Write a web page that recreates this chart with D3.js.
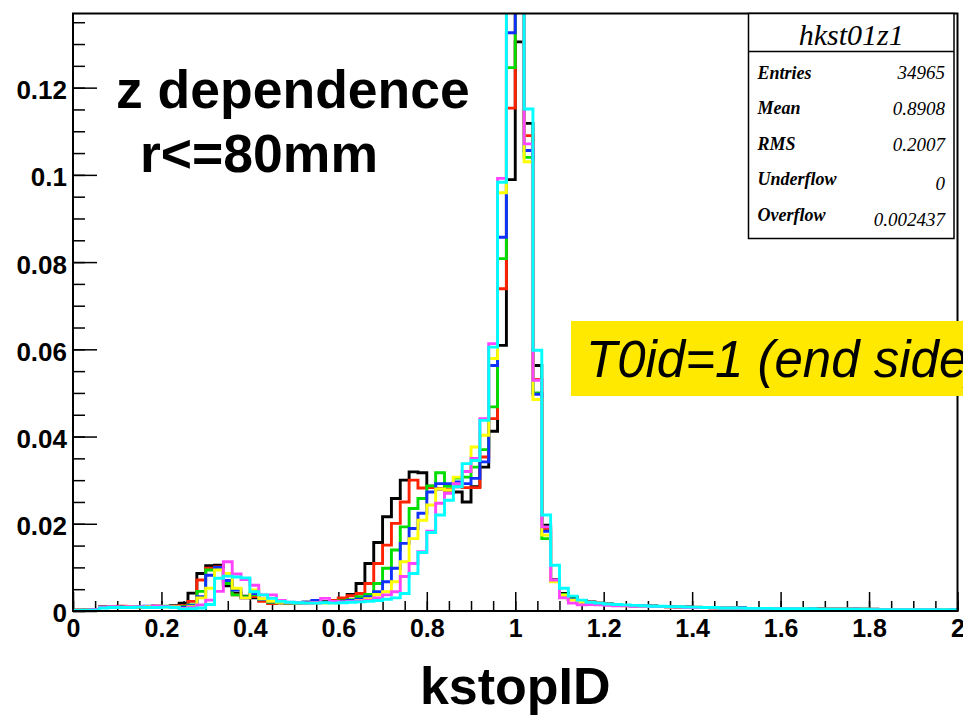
<!DOCTYPE html>
<html>
<head>
<meta charset="utf-8">
<script src="https://cdn.jsdelivr.net/npm/d3@7/dist/d3.min.js"></script>
<style>
  body { margin: 0; background: #fff; }
</style>
</head>
<body>
<div id="canvas"></div>
<script>
// histogram range: 100 bins of 0.02 from 0 to 2
const xMin = 0;
const xMax = 2;

const xTicks = [0, 0.2, 0.4, 0.6, 0.8, 1, 1.2, 1.4, 1.6, 1.8, 2];
const yTicks = [0, 0.02, 0.04, 0.06, 0.08, 0.1, 0.12];

const seriesColors = ["#000000", "#ff2200", "#00dd00", "#1030ff", "#ffff00", "#ff44ff", "#00ffff"];

const hBlack = [
  0.0002,0.0002,0.0003,0.0009,0.0009,0.0010,0.0010,0.0009,0.0010,0.0011,0.0010,0.0012,
  0.0018,0.0041,0.0086,0.0104,0.0105,0.0058,0.0041,0.0034,0.0030,0.0025,0.0022,0.0020,
  0.0017,0.0019,0.0020,0.0021,0.0022,0.0024,0.0029,0.0038,0.0063,0.0109,0.0157,0.0216,
  0.0258,0.0300,0.0319,0.0317,0.0286,0.0280,0.0275,0.0273,0.0250,0.0285,0.0330,0.0412,
  0.0609,0.0989,0.1305,0.1118,0.0563,0.0197,0.0072,0.0040,0.0031,0.0024,0.0021,0.0018,
  0.0016,0.0015,0.0013,0.0012,0.0011,0.0011,0.0010,0.0010,0.0009,0.0009,0.0008,0.0008,
  0.0008,0.0007,0.0007,0.0007,0.0006,0.0006,0.0006,0.0006,0.0005,0.0005,0.0005,0.0005,
  0.0005,0.0004,0.0004,0.0004,0.0004,0.0004,0.0004,0.0003,0.0003,0.0003,0.0003,0.0003,
  0.0003,0.0003,0.0003,0.0003
];
const hRed = [
  0.0002,0.0003,0.0003,0.0010,0.0009,0.0011,0.0010,0.0010,0.0009,0.0011,0.0010,0.0011,
  0.0012,0.0022,0.0071,0.0098,0.0101,0.0067,0.0037,0.0030,0.0033,0.0022,0.0017,0.0018,
  0.0017,0.0018,0.0019,0.0020,0.0021,0.0024,0.0030,0.0035,0.0040,0.0063,0.0109,0.0151,
  0.0201,0.0250,0.0300,0.0282,0.0283,0.0280,0.0278,0.0285,0.0283,0.0283,0.0353,0.0441,
  0.0739,0.1153,0.1450,0.1090,0.0531,0.0188,0.0070,0.0038,0.0026,0.0022,0.0021,0.0018,
  0.0016,0.0014,0.0013,0.0013,0.0012,0.0011,0.0010,0.0010,0.0009,0.0009,0.0009,0.0008,
  0.0008,0.0008,0.0007,0.0007,0.0006,0.0006,0.0006,0.0005,0.0005,0.0005,0.0005,0.0005,
  0.0004,0.0004,0.0004,0.0004,0.0004,0.0004,0.0003,0.0003,0.0003,0.0003,0.0003,0.0003,
  0.0003,0.0003,0.0003,0.0003
];
const hGreen = [
  0.0002,0.0002,0.0002,0.0009,0.0010,0.0009,0.0009,0.0010,0.0010,0.0009,0.0011,0.0010,
  0.0010,0.0014,0.0045,0.0094,0.0099,0.0063,0.0037,0.0033,0.0037,0.0026,0.0020,0.0019,
  0.0018,0.0017,0.0018,0.0019,0.0020,0.0021,0.0023,0.0026,0.0033,0.0038,0.0063,0.0098,
  0.0140,0.0193,0.0235,0.0258,0.0287,0.0317,0.0286,0.0305,0.0307,0.0330,0.0370,0.0468,
  0.0808,0.1246,0.1480,0.1040,0.0500,0.0166,0.0068,0.0038,0.0027,0.0022,0.0019,0.0017,
  0.0015,0.0014,0.0013,0.0012,0.0011,0.0011,0.0010,0.0009,0.0009,0.0009,0.0008,0.0008,
  0.0007,0.0007,0.0007,0.0006,0.0006,0.0006,0.0006,0.0005,0.0005,0.0005,0.0005,0.0004,
  0.0004,0.0004,0.0004,0.0004,0.0004,0.0003,0.0003,0.0003,0.0003,0.0003,0.0003,0.0003,
  0.0003,0.0002,0.0003,0.0002
];
const hBlue = [
  0.0002,0.0002,0.0003,0.0009,0.0009,0.0010,0.0009,0.0010,0.0011,0.0010,0.0010,0.0010,
  0.0008,0.0012,0.0033,0.0082,0.0100,0.0070,0.0048,0.0030,0.0040,0.0027,0.0021,0.0020,
  0.0019,0.0018,0.0020,0.0024,0.0020,0.0021,0.0022,0.0024,0.0027,0.0033,0.0044,0.0067,
  0.0098,0.0155,0.0189,0.0224,0.0273,0.0292,0.0292,0.0296,0.0292,0.0304,0.0342,0.0563,
  0.0857,0.1326,0.1500,0.1056,0.0497,0.0183,0.0070,0.0034,0.0026,0.0021,0.0019,0.0017,
  0.0015,0.0014,0.0013,0.0012,0.0012,0.0011,0.0010,0.0010,0.0009,0.0009,0.0008,0.0008,
  0.0008,0.0007,0.0007,0.0007,0.0006,0.0006,0.0006,0.0005,0.0005,0.0005,0.0005,0.0005,
  0.0004,0.0004,0.0004,0.0004,0.0004,0.0004,0.0003,0.0003,0.0003,0.0003,0.0003,0.0003,
  0.0003,0.0003,0.0002,0.0003
];
const hYellow = [
  0.0002,0.0002,0.0002,0.0008,0.0009,0.0009,0.0010,0.0009,0.0010,0.0010,0.0009,0.0010,
  0.0006,0.0010,0.0030,0.0052,0.0094,0.0086,0.0052,0.0030,0.0048,0.0028,0.0022,0.0020,
  0.0019,0.0018,0.0018,0.0019,0.0018,0.0019,0.0020,0.0022,0.0024,0.0028,0.0038,0.0044,
  0.0067,0.0113,0.0166,0.0208,0.0243,0.0280,0.0277,0.0307,0.0320,0.0376,0.0403,0.0579,
  0.0959,0.1420,0.1500,0.1030,0.0485,0.0174,0.0067,0.0036,0.0025,0.0020,0.0018,0.0016,
  0.0015,0.0013,0.0012,0.0012,0.0011,0.0010,0.0010,0.0009,0.0009,0.0008,0.0008,0.0008,
  0.0007,0.0007,0.0007,0.0006,0.0006,0.0006,0.0005,0.0005,0.0005,0.0005,0.0005,0.0004,
  0.0004,0.0004,0.0004,0.0004,0.0003,0.0004,0.0003,0.0003,0.0003,0.0003,0.0003,0.0003,
  0.0003,0.0002,0.0003,0.0002
];
const hMagenta = [
  0.0002,0.0002,0.0003,0.0009,0.0010,0.0009,0.0010,0.0010,0.0009,0.0011,0.0010,0.0009,
  0.0005,0.0008,0.0014,0.0025,0.0045,0.0113,0.0085,0.0072,0.0059,0.0037,0.0037,0.0024,
  0.0020,0.0019,0.0018,0.0019,0.0029,0.0022,0.0021,0.0022,0.0023,0.0025,0.0030,0.0037,
  0.0044,0.0079,0.0109,0.0136,0.0183,0.0247,0.0270,0.0292,0.0320,0.0350,0.0441,0.0613,
  0.0992,0.1450,0.1500,0.1071,0.0529,0.0193,0.0071,0.0030,0.0018,0.0014,0.0015,0.0014,
  0.0013,0.0012,0.0012,0.0011,0.0011,0.0010,0.0010,0.0009,0.0009,0.0008,0.0008,0.0008,
  0.0007,0.0007,0.0007,0.0006,0.0006,0.0006,0.0005,0.0005,0.0005,0.0005,0.0004,0.0004,
  0.0004,0.0004,0.0004,0.0004,0.0004,0.0003,0.0003,0.0003,0.0003,0.0003,0.0003,0.0003,
  0.0003,0.0003,0.0002,0.0003
];
const hCyan = [
  0.0001,0.0002,0.0002,0.0007,0.0008,0.0008,0.0008,0.0009,0.0008,0.0008,0.0009,0.0008,
  0.0004,0.0005,0.0007,0.0015,0.0075,0.0080,0.0078,0.0076,0.0044,0.0037,0.0029,0.0022,
  0.0020,0.0019,0.0018,0.0018,0.0019,0.0018,0.0019,0.0020,0.0021,0.0022,0.0024,0.0027,
  0.0030,0.0040,0.0086,0.0134,0.0180,0.0220,0.0254,0.0285,0.0338,0.0345,0.0437,0.0605,
  0.0983,0.1500,0.1500,0.1151,0.0598,0.0220,0.0105,0.0052,0.0034,0.0025,0.0020,0.0018,
  0.0016,0.0015,0.0014,0.0013,0.0012,0.0011,0.0011,0.0010,0.0010,0.0009,0.0009,0.0008,
  0.0008,0.0007,0.0007,0.0007,0.0006,0.0006,0.0006,0.0005,0.0005,0.0005,0.0005,0.0005,
  0.0004,0.0004,0.0004,0.0004,0.0004,0.0004,0.0003,0.0003,0.0003,0.0003,0.0003,0.0003,
  0.0003,0.0003,0.0003,0.0003
];

const series = [hBlack, hRed, hGreen, hBlue, hYellow, hMagenta, hCyan];

const statTitle = "hkst01z1";
const statNames = ["Entries", "Mean", "RMS", "Underflow", "Overflow"];
const statValues = ["34965", "0.8908", "0.2007", "0", "0.002437"];

const width = 963;
const height = 716;
const margin = { top: 13.5, left: 73, bottom: 105, right: 5.5 };
const iwidth = width - margin.left - margin.right;
const iheight = height - margin.top - margin.bottom;

const svg = d3.select("#canvas").append("svg")
  .attr("width", width)
  .attr("height", height)
  .style("display", "block");

const x = d3.scaleLinear().domain([xMin, xMax]).range([0, iwidth]);
const y = d3.scaleLinear().domain([0, 0.137]).range([iheight, 0]);

const g = svg.append("g").attr("transform", `translate(${margin.left},${margin.top})`);

g.append("clipPath").attr("id", "frame-clip")
  .append("rect").attr("width", iwidth).attr("height", iheight);

// minor ticks
const yMinor = d3.range(0, 0.1351, 0.005);
const xMinor = d3.range(0, 2.001, 0.05);

g.append("g")
  .call(d3.axisLeft(y).tickValues(yMinor).tickSizeInner(-12).tickSizeOuter(0).tickFormat(""))
  .call(a => a.select(".domain").remove());
g.append("g")
  .attr("transform", `translate(0,${iheight})`)
  .call(d3.axisBottom(x).tickValues(xMinor).tickSizeInner(-10).tickSizeOuter(0).tickFormat(""))
  .call(a => a.select(".domain").remove());

// major ticks and labels
const yAxis = g.append("g")
  .call(d3.axisLeft(y).tickValues(yTicks).tickSizeInner(-24).tickSizeOuter(0).tickPadding(6).tickFormat(d3.format("~g")));
yAxis.select(".domain").remove();
yAxis.selectAll("text").attr("dy", "0.42em")
  .style("font-family", "'Liberation Sans', Arial, sans-serif")
  .style("font-weight", "bold").style("font-size", "26px").attr("fill", "#000");

const xAxis = g.append("g")
  .attr("transform", `translate(0,${iheight})`)
  .call(d3.axisBottom(x).tickValues(xTicks).tickSizeInner(-19).tickSizeOuter(0).tickPadding(8).tickFormat(d3.format("~g")));
xAxis.select(".domain").remove();
xAxis.selectAll("text")
  .style("font-family", "'Liberation Sans', Arial, sans-serif")
  .style("font-weight", "bold").style("font-size", "25px").attr("fill", "#000");

g.selectAll(".tick line").attr("stroke", "#000").attr("stroke-width", 1.5);

// histograms as step outlines
const line = d3.line().x(d => x(d[0])).y(d => y(d[1]));
function stepPoints(vals) {
  const w = (xMax - xMin) / vals.length;
  const pts = [[xMin, 0]];
  vals.forEach((v, i) => {
    pts.push([xMin + i * w, v]);
    pts.push([xMin + (i + 1) * w, v]);
  });
  pts.push([xMax, 0]);
  return pts;
}

g.append("g").attr("clip-path", "url(#frame-clip)")
  .selectAll("path").data(series).enter().append("path")
  .attr("d", d => line(stepPoints(d)))
  .attr("fill", "none")
  .attr("stroke", (d, i) => seriesColors[i])
  .attr("stroke-width", 2.9)
  .attr("stroke-linejoin", "miter");

// frame
g.append("rect")
  .attr("width", iwidth).attr("height", iheight)
  .attr("fill", "none").attr("stroke", "#000").attr("stroke-width", 2);

// axis title
svg.append("text")
  .attr("x", margin.left + x(1)).attr("y", 704)
  .attr("text-anchor", "middle")
  .style("font-family", "'Liberation Sans', Arial, sans-serif")
  .style("font-weight", "bold").style("font-size", "52px")
  .text("kstopID");

// annotations
svg.append("text")
  .attr("x", 116).attr("y", 107.5)
  .style("font-family", "'Liberation Sans', Arial, sans-serif")
  .style("font-weight", "bold").style("font-size", "53.5px")
  .text("z dependence");
svg.append("text")
  .attr("x", 140).attr("y", 172)
  .style("font-family", "'Liberation Sans', Arial, sans-serif")
  .style("font-weight", "bold").style("font-size", "53.5px")
  .text("r<=80mm");

// stats box
const sb = { x: 748.5, y: 13.5, w: 205.5, h: 225, head: 38 };
const stats = svg.append("g");
stats.append("rect")
  .attr("x", sb.x).attr("y", sb.y).attr("width", sb.w).attr("height", sb.h)
  .attr("fill", "#fff").attr("stroke", "#000").attr("stroke-width", 1.5);
stats.append("line")
  .attr("x1", sb.x).attr("x2", sb.x + sb.w)
  .attr("y1", sb.y + sb.head).attr("y2", sb.y + sb.head)
  .attr("stroke", "#000").attr("stroke-width", 1.5);
stats.append("text")
  .attr("x", sb.x + sb.w / 2).attr("y", sb.y + 31.5)
  .attr("text-anchor", "middle")
  .style("font-family", "'Liberation Serif', 'Times New Roman', serif")
  .style("font-style", "italic").style("font-size", "30px")
  .text(statTitle);
const rowY = d3.scaleLinear().domain([0, statNames.length - 1]).range([sb.y + 65, sb.y + 207]);
const valShift = [0, 1, 1.5, 5, 5];
stats.selectAll(".sname").data(statNames).enter().append("text")
  .attr("class", "sname")
  .attr("x", sb.x + 9).attr("y", (d, i) => rowY(i))
  .style("font-family", "'Liberation Serif', 'Times New Roman', serif")
  .style("font-style", "italic").style("font-weight", "bold").style("font-size", "18px")
  .text(d => d);
stats.selectAll(".sval").data(statValues).enter().append("text")
  .attr("class", "sval")
  .attr("x", sb.x + sb.w - 9).attr("y", (d, i) => rowY(i) + valShift[i])
  .attr("text-anchor", "end")
  .style("font-family", "'Liberation Serif', 'Times New Roman', serif")
  .style("font-style", "italic").style("font-size", "19px")
  .text(d => d);

// yellow label
svg.append("rect")
  .attr("x", 571).attr("y", 321).attr("width", 400).attr("height", 75)
  .attr("fill", "#ffe900");
svg.append("text")
  .attr("x", 586).attr("y", 377)
  .style("font-family", "'Liberation Sans', Arial, sans-serif")
  .style("font-style", "italic").style("font-size", "51px")
  .text("T0id=1 (end side)");
</script>
</body>
</html>
